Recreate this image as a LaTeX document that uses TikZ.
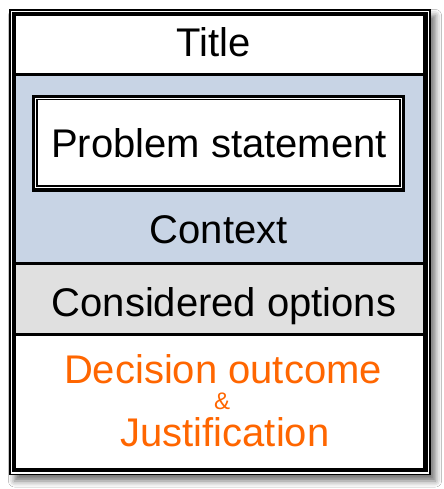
\documentclass[tikz,border=0pt]{standalone}
\usepackage{fontspec}
\setmainfont{Liberation Sans}
\usetikzlibrary{shadows.blur}
\definecolor{ctxblue}{RGB}{200,212,229}
\definecolor{optgray}{RGB}{224,224,224}
\definecolor{decorange}{RGB}{255,102,0}
\tikzset{
  big/.style={font=\fontsize{40bp}{48bp}\selectfont, inner sep=0pt, anchor=base},
  small/.style={font=\fontsize{24bp}{28bp}\selectfont, inner sep=0pt, anchor=base},
  sepline/.style={line width=3bp, draw=black},
}
\begin{document}
\begin{tikzpicture}[x=1bp,y=-1bp]
\useasboundingbox (0,0) rectangle (444,489);
\fill[white] (0,0) rectangle (444,489);
% outer frame with shadow
\fill[white, blur shadow={shadow xshift=5bp, shadow yshift=-6bp, shadow blur radius=6bp, shadow opacity=55}] (9.5,9.5) rectangle (430.5,475);
% section fills
\fill[ctxblue] (16,76) rectangle (423.5,262);
\fill[optgray] (16,265) rectangle (423.5,333);
% section lines
\draw[sepline] (16,74.5) -- (423.5,74.5);
\draw[sepline] (16,263.5) -- (423.5,263.5);
\draw[sepline] (16,334.5) -- (423.5,334.5);
% outer double frame
\draw[line width=1.3bp] (10,10) rectangle (430,474.5);
\draw[line width=4.5bp] (14,14) rectangle (425.5,469.8);
% problem statement box
\fill[white] (33.5,96.3) rectangle (403.5,190);
\draw[line width=3.2bp] (33.5,96.3) rectangle (403.5,190);
\draw[line width=1.3bp] (37,99.6) rectangle (400,186);
% texts
\node[big] (title) at (213.5,56.7) {Title};
\node[big] (problem) at (219,157.3) {Problem statement};
\node[big] (context) at (218.7,243.3) {Context};
\node[big] (options) at (224,316) {Considered options};
\node[big, text=decorange] (decision) at (223,383.3) {Decision outcome};
\node[small, text=decorange] (amp) at (222,409) {\&};
\node[big, text=decorange] (justif) at (225,446.7) {Justification};
\end{tikzpicture}
\end{document}
